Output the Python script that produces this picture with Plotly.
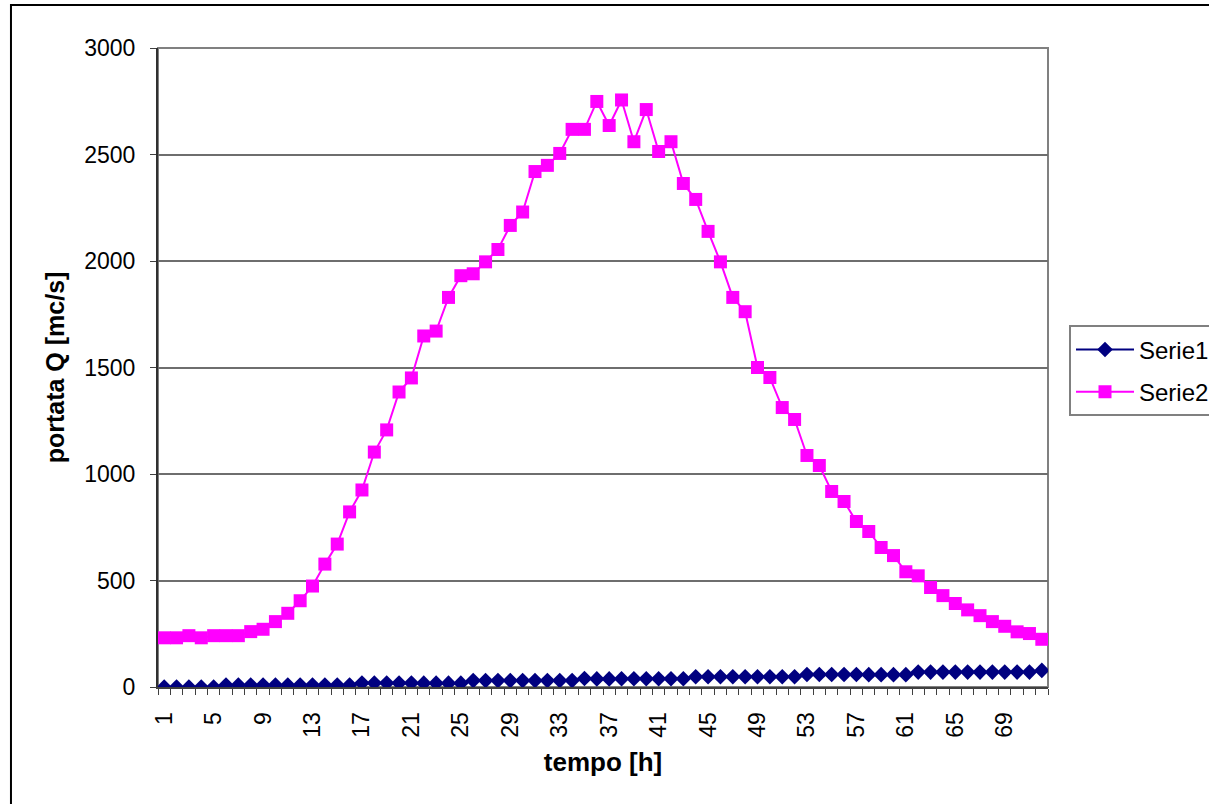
import plotly.graph_objects as go

# ---- data ----
hours = list(range(1, 73))
tick_hours = [1, 5, 9, 13, 17, 21, 25, 29, 33, 37, 41, 45, 49, 53, 57, 61, 65, 69]

serie1 = [0, 0, 0, 0, 0,
          9, 9, 9, 9, 9, 9, 9, 9, 9, 9, 9,
          19, 19, 19, 19, 19, 18, 18, 18, 18,
          30, 30, 30, 30, 30, 30, 30, 30, 30,
          40, 38, 38, 39, 39, 39, 39, 39, 39,
          48, 48, 48, 48, 48, 48, 48, 48, 48,
          59, 59, 59, 59, 59, 58, 58, 58, 58,
          70, 70, 70, 70, 70, 70, 70, 70, 70, 70,
          78]

serie2 = [231, 231, 241, 231, 241, 241, 241, 260, 271, 307, 346, 405,
          474, 577, 671, 822, 925, 1103, 1207, 1385, 1451, 1648, 1671, 1829,
          1931, 1940, 1996, 2054, 2167, 2230, 2420, 2449, 2505, 2618, 2618, 2749,
          2636, 2756, 2560, 2711, 2514, 2560, 2364, 2289, 2139, 1996, 1829, 1762,
          1500, 1453, 1312, 1256, 1087, 1040, 918, 871, 777, 730, 655, 617,
          541, 522, 467, 429, 392, 362, 335, 307, 285, 259, 251, 224]

FONT = "Liberation Sans, Arial, sans-serif"

fig = go.Figure()
fig.add_trace(go.Scatter(
    x=hours, y=serie1, name="Serie1", mode="lines+markers",
    line=dict(color="#000080", width=2),
    marker=dict(symbol="diamond", size=12, color="#000080"),
    legendgroup="a"))
fig.add_trace(go.Scatter(
    x=hours, y=serie2, name="Serie2", mode="lines+markers",
    line=dict(color="#FF00FF", width=2),
    marker=dict(symbol="square", size=13, color="#FF00FF"),
    legendgroup="b"))

boundaries = [h - 0.5 for h in hours] + [hours[-1] + 0.5]

fig.update_layout(
    width=1209, height=804,
    margin=dict(l=158, r=161, t=48, b=117, autoexpand=False),
    paper_bgcolor="white", plot_bgcolor="white",
    font=dict(family=FONT, size=23, color="black"),
    showlegend=True,
    legend=dict(x=1.0236, xanchor="left", y=0.566, yanchor="top",
                bordercolor="#808080", borderwidth=2, bgcolor="white",
                font=dict(family=FONT, size=24), tracegroupgap=8,
                itemwidth=58),
    xaxis=dict(
        range=[0.5, 72.5], tickmode="array", tickvals=tick_hours,
        ticktext=[str(t) for t in tick_hours], tickangle=-90,
        ticks="", showgrid=False, zeroline=False,
        showline=True, linecolor="#404040", linewidth=2,
        ticklabelstandoff=14,
        tickfont=dict(family=FONT, size=23),
        minor=dict(tickmode="array", tickvals=boundaries, ticks="outside",
                   ticklen=6, tickwidth=1, tickcolor="#404040", showgrid=False),
        title=dict(text="<b>tempo [h]</b>", standoff=16,
                   font=dict(family=FONT, size=26)),
        automargin=False, fixedrange=True),
    yaxis=dict(
        range=[0, 3000], dtick=500, tick0=0,
        ticks="outside", ticklen=6, tickwidth=1, tickcolor="#404040",
        showgrid=True, gridcolor="#6e6e6e", gridwidth=1.5, zeroline=False,
        showline=True, linecolor="#303030", linewidth=2,
        ticklabelstandoff=10,
        tickfont=dict(family=FONT, size=23),
        title=dict(text="<b>portata Q [mc/s]</b>", standoff=12,
                   font=dict(family=FONT, size=25)),
        automargin=False, fixedrange=True),
    shapes=[
        # plot-area border
        dict(type="rect", xref="paper", yref="paper", x0=0, x1=1, y0=0, y1=1,
             line=dict(color="#808080", width=2), layer="below"),
        # chart outer frame
        dict(type="rect", xref="paper", yref="paper",
             x0=-0.1652, x1=1.2, y0=-0.2, y1=1.0673,
             line=dict(color="black", width=2), layer="above"),
    ],
)

fig.write_html("out.html")
